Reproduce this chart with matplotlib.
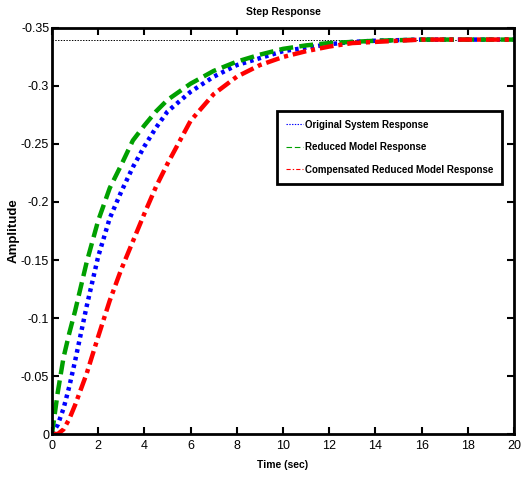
import matplotlib
matplotlib.use("Agg")
import matplotlib.pyplot as plt
from matplotlib.lines import Line2D

plt.rcParams["lines.scale_dashes"] = False
plt.rcParams["font.family"] = ["Liberation Sans", "DejaVu Sans"]

# ----- data -----------------------------------------------------
t = [0, 0.25, 0.5, 0.75, 1, 1.5, 2, 2.5, 3, 3.5, 4, 4.5, 5, 6, 7, 8,
     9, 10, 11, 12, 13, 14, 16, 18, 20]
y_orig = [0, 0.008, 0.022, 0.041, 0.063, 0.110, 0.153, 0.186, 0.209, 0.230,
          0.248, 0.264, 0.278, 0.295, 0.308, 0.318, 0.324, 0.330, 0.333,
          0.336, 0.338, 0.339, 0.340, 0.340, 0.340]
y_red = [0, 0.036, 0.066, 0.087, 0.106, 0.148, 0.184, 0.212, 0.232, 0.253,
         0.266, 0.278, 0.288, 0.302, 0.313, 0.321, 0.327, 0.332, 0.335,
         0.337, 0.338, 0.339, 0.340, 0.340, 0.340]
y_comp = [0, 0.0, 0.004, 0.013, 0.025, 0.052, 0.084, 0.115, 0.142, 0.166,
          0.190, 0.213, 0.233, 0.270, 0.293, 0.308, 0.318, 0.325, 0.330,
          0.334, 0.337, 0.338, 0.340, 0.340, 0.340]
final_value = -0.34

yticks = [0, -0.05, -0.1, -0.15, -0.2, -0.25, -0.3, -0.35]
ytick_labels = ["0", "-0.05", "-0.1", "-0.15", "-0.2", "-0.25", "-0.3", "-0.35"]
xticks = [0, 2, 4, 6, 8, 10, 12, 14, 16, 18, 20]

labels = ["Original System Response", "Reduced Model Response",
          "Compensated Reduced Model Response"]

fig = plt.figure(figsize=(5.23, 4.8), dpi=100)
ax = fig.add_axes([0.0994, 0.0958, 0.8834, 0.8459])

neg = lambda v: [-a for a in v]

# steady-state line
ax.plot([0, 20], [final_value, final_value], color="black", lw=0.7,
        linestyle=(0, (1, 1)))
ax.plot(t, neg(y_orig), color="blue", lw=3.2, dashes=(2.6, 3.0))
ax.plot(t, neg(y_red), color="#00a000", lw=3.2, dashes=(10, 4.5))
ax.plot(t, neg(y_comp), color="red", lw=3.2, dashes=(10, 3.5, 3, 3.5))

ax.set_xlim(0, 20)
ax.set_ylim(0, -0.35)
ax.set_xticks(xticks)
ax.set_yticks(yticks)
ax.set_yticklabels(ytick_labels)
ax.tick_params(direction="in", length=5, width=1.5, top=True, right=True,
               labelsize=9)
ax.tick_params(axis="x", pad=4)
ax.tick_params(axis="y", pad=2)
for sp in ax.spines.values():
    sp.set_linewidth(2)

ax.set_title("Step Response", fontsize=7.5, fontweight="bold", pad=9)
ax.set_xlabel("Time (sec)", fontsize=7.5, fontweight="bold", labelpad=6)
ax.set_ylabel("Amplitude", fontsize=9.5, fontweight="bold", labelpad=1)

handles = [
    Line2D([], [], color="blue", lw=0.8, dashes=(1, 1)),
    Line2D([], [], color="#00a000", lw=0.8, dashes=(4, 2)),
    Line2D([], [], color="red", lw=0.8, dashes=(3, 1.5, 1, 1.5)),
]
leg = ax.legend(handles, labels, loc="upper left",
                bbox_to_anchor=(0.487, 0.796), handlelength=1.8,
                handletextpad=0.15, borderpad=0.9, labelspacing=1.3,
                fancybox=False, framealpha=1, borderaxespad=0,
                prop={"weight": "bold", "size": 7})
leg.get_frame().set_edgecolor("black")
leg.get_frame().set_linewidth(2)

fig.savefig("out.png", dpi=100)
